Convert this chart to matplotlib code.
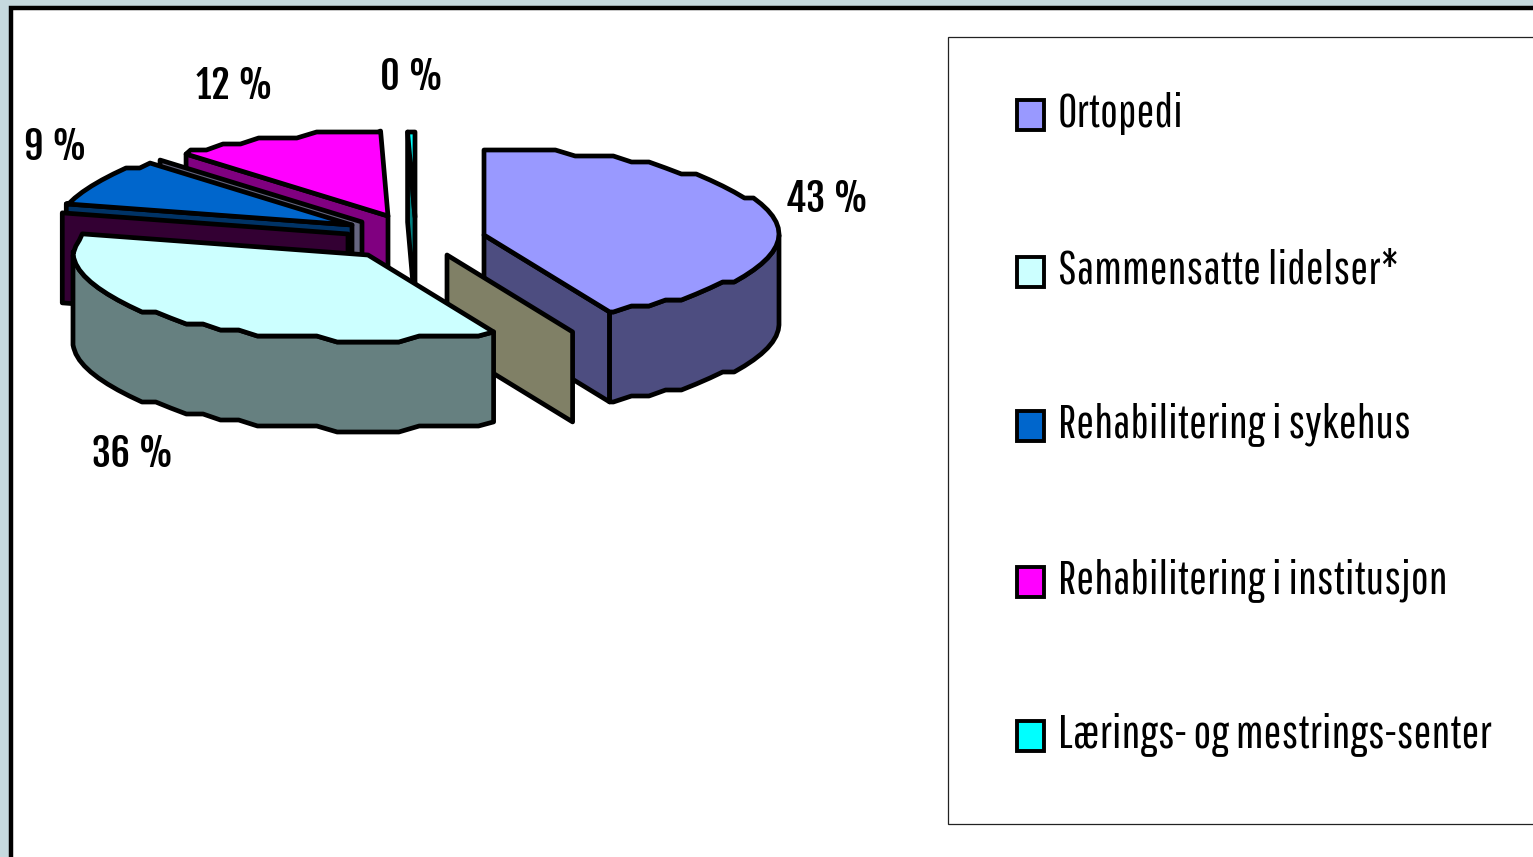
#!/usr/bin/env python3
"""exploded 3d pie, drawn as polygons since matplotlib has no 3d pie"""
import numpy as np
import matplotlib
matplotlib.use('Agg')
import matplotlib.pyplot as plt
from matplotlib.patches import Polygon, Rectangle

# data
legend_labels = ['Ortopedi', 'Sammensatte lidelser*', 'Rehabilitering i sykehus',
                 'Rehabilitering i institusjon', 'Lærings- og mestrings-senter']
legend_colors = ['#9999FF', '#CCFFFF', '#0066CC', '#FF00FF', '#00FFFF']

# the empty categories still leave a wall behind in the original
slice_values = [43, 0, 36, 0, 9, 0, 11.6, 0.4]
slice_colors = ['#9999FF', '#FFFFCC', '#CCFFFF', '#660066', '#0066CC', '#CCCCFF', '#FF00FF', '#00FFFF']
# pixel position of each slice's tip after exploding
tip_x = [484, 447, 368, 348, 352, 362, 388, 415]
tip_y = [235, 255, 255, 234, 225, 222, 216, 217]
# back to front
draw_order = [7, 6, 5, 4, 3, 0, 1, 2]

label_slices = [0, 2, 4, 6, 7]
label_x = [827, 133, 55, 235, 412]
label_y = [199, 454, 147, 86, 77]

legend_y = [115, 272, 426, 582, 736]

rx, ry, depth = 295, 85, 90
lw = 3.4
W, H = 1533, 857
font = ['Pathway Gothic One', 'Archivo Narrow', 'Liberation Sans']
bold_font = ['Fjalla One', 'Archivo Narrow', 'Liberation Sans']


def rim(tx, ty, a):
    return tx + rx * np.cos(np.radians(a)), ty - ry * np.sin(np.radians(a))


def arc(tx, ty, a0, a1):
    # rough stepped outline like the low res original, same knots for every arc
    inner = np.arange(np.floor(a0 / 4) * 4, a1, -4.0)
    inner = inner[(inner < a0) & (inner > a1)]
    aa = np.concatenate([[a0], inner, [a1]])
    xs, ys = rim(tx, ty, aa)
    ys[1:-1] = np.round(ys[1:-1] / 6) * 6
    return list(zip(xs, ys))


def darker(c):
    r, g, b = matplotlib.colors.to_rgb(c)
    return (r / 2, g / 2, b / 2)


def draw_wall(ax, tx, ty, a, color, z):
    x, y = rim(tx, ty, a)
    pts = [(tx, ty), (x, y), (x, y + depth), (tx, ty + depth)]
    ax.add_patch(Polygon(pts, closed=True, fc=darker(color), ec='black', lw=lw, joinstyle='round', zorder=z))


fig = plt.figure(figsize=(W / 100, H / 100), dpi=100, facecolor='#C5D9DE')
ax = fig.add_axes([0, 0, 1, 1])
ax.set_xlim(0, W)
ax.set_ylim(H, 0)
ax.axis('off')

# panel
ax.add_patch(Rectangle((11, 8), W, H, fc='white', ec='black', lw=3.2, zorder=0))

# start angles going clockwise from 12 o'clock
cum = np.cumsum([0] + slice_values)
starts = 90 - cum[:-1] * 3.6
ends = 90 - cum[1:] * 3.6

z = 1
for i in draw_order:
    tx, ty, c = tip_x[i], tip_y[i], slice_colors[i]
    a0, a1 = starts[i], ends[i]
    if slice_values[i] == 0:
        draw_wall(ax, tx, ty, a0, c, z)
        z += 1
        continue
    if np.cos(np.radians(a0)) < 0:
        draw_wall(ax, tx, ty, a0, c, z)
    if np.cos(np.radians(a1)) > 0:
        draw_wall(ax, tx, ty, a1, c, z)
    # outer wall, only the front half of the ellipse shows
    f0, f1 = min(a0, 0), max(a1, -180)
    if f0 > f1:
        top = arc(tx, ty, f0, f1)
        bottom = [(x, y + depth) for x, y in top][::-1]
        ax.add_patch(Polygon(top + bottom, closed=True, fc=darker(c), ec='black', lw=lw,
                             joinstyle='round', zorder=z))
    ax.add_patch(Polygon([(tx, ty)] + arc(tx, ty, a0, a1), closed=True, fc=c, ec='black', lw=lw,
                         joinstyle='round', zorder=z + 0.5))
    z += 1

# percent labels
for i, x, y in zip(label_slices, label_x, label_y):
    ax.text(x, y, f'{slice_values[i]:.0f} %', family=bold_font, fontsize=27.5,
            ha='center', va='center', color='black', zorder=20)

# legend
ax.add_patch(Rectangle((948, 37), W, 787, fc='white', ec='#222222', lw=0.9, zorder=15))
for lab, c, y in zip(legend_labels, legend_colors, legend_y):
    ax.add_patch(Rectangle((1017, y - 15), 27, 30, fc=c, ec='black', lw=2.8, zorder=16))
    ax.text(1058, y - 2, lab, family=font, fontsize=34, ha='left', va='center', color='black', zorder=17)

fig.savefig('out.png', dpi=100, facecolor=fig.get_facecolor())
